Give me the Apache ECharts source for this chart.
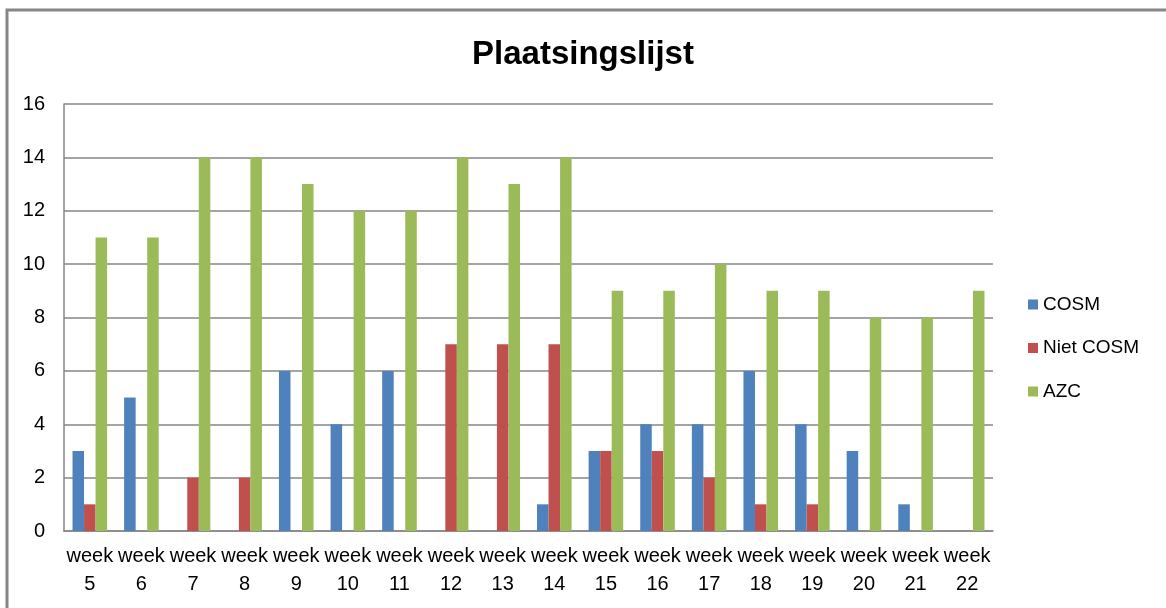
<!DOCTYPE html>
<html>
<head>
<meta charset="utf-8">
<script src="https://cdn.jsdelivr.net/npm/echarts@6/dist/echarts.min.js"></script>
<style>
html, body { margin: 0; padding: 0; background: #fff; }
#chart { width: 1166px; height: 608px; }
</style>
</head>
<body>
<div id="chart"></div>
<script>
const weeks = ["week\n5", "week\n6", "week\n7", "week\n8", "week\n9", "week\n10", "week\n11", "week\n12", "week\n13",
    "week\n14", "week\n15", "week\n16", "week\n17", "week\n18", "week\n19", "week\n20", "week\n21", "week\n22"];
const cosm = [3, 5, 0, 0, 6, 4, 6, 0, 0, 1, 3, 4, 4, 6, 4, 3, 1, 0];
const nietCosm = [1, 0, 2, 2, 0, 0, 0, 7, 7, 7, 3, 3, 2, 1, 1, 0, 0, 0];
const azc = [11, 11, 14, 14, 13, 12, 12, 14, 13, 14, 9, 9, 10, 9, 9, 8, 8, 9];

const chart = echarts.init(document.getElementById("chart"));
const font = "'Liberation Sans', Arial, sans-serif";

function bar(name, data, color) {
    return {
        name: name,
        type: "bar",
        data: data,
        barGap: "0%",
        barCategoryGap: "33%",
        itemStyle: { color: color },
    };
}

chart.setOption({
    backgroundColor: "#fff",
    animation: false,
    title: {
        text: "Plaatsingslijst",
        left: "center",
        top: 33,
        textStyle: { fontFamily: font, fontWeight: "bold", fontSize: 33, color: "#000" },
    },
    legend: {
        orient: "vertical",
        left: 1028,
        top: 295,
        padding: 0,
        itemGap: 24.5,
        itemWidth: 10,
        itemHeight: 10,
        icon: "rect",
        textStyle: { fontFamily: font, fontSize: 19, color: "#000" },
        data: ["COSM", "Niet COSM", "AZC"],
    },
    grid: { left: 64, right: 173, top: 104, bottom: 77 },
    xAxis: {
        type: "category",
        data: weeks,
        axisTick: { show: false },
        axisLine: { lineStyle: { color: "#868686", width: 1.5 } },
        axisLabel: {
            interval: 0,
            margin: 11,
            lineHeight: 28,
            fontFamily: font,
            fontSize: 20,
            color: "#000",
        },
    },
    yAxis: {
        type: "value",
        min: 0,
        max: 16,
        interval: 2,
        axisLine: { show: true, lineStyle: { color: "#868686", width: 1.5 } },
        axisTick: { show: false },
        axisLabel: { margin: 19, fontFamily: font, fontSize: 20, color: "#000" },
        splitLine: { lineStyle: { color: "#868686", width: 1.5 } },
    },
    graphic: [
        {
            type: "polyline",
            shape: { points: [[7, 620], [7, 10], [1180, 10]] },
            style: { stroke: "#868686", lineWidth: 3, fill: null },
            silent: true,
        },
    ],
    series: [
        bar("COSM", cosm, "#4F81BD"),
        bar("Niet COSM", nietCosm, "#C0504D"),
        bar("AZC", azc, "#9BBB59"),
    ],
});
</script>
</body>
</html>
